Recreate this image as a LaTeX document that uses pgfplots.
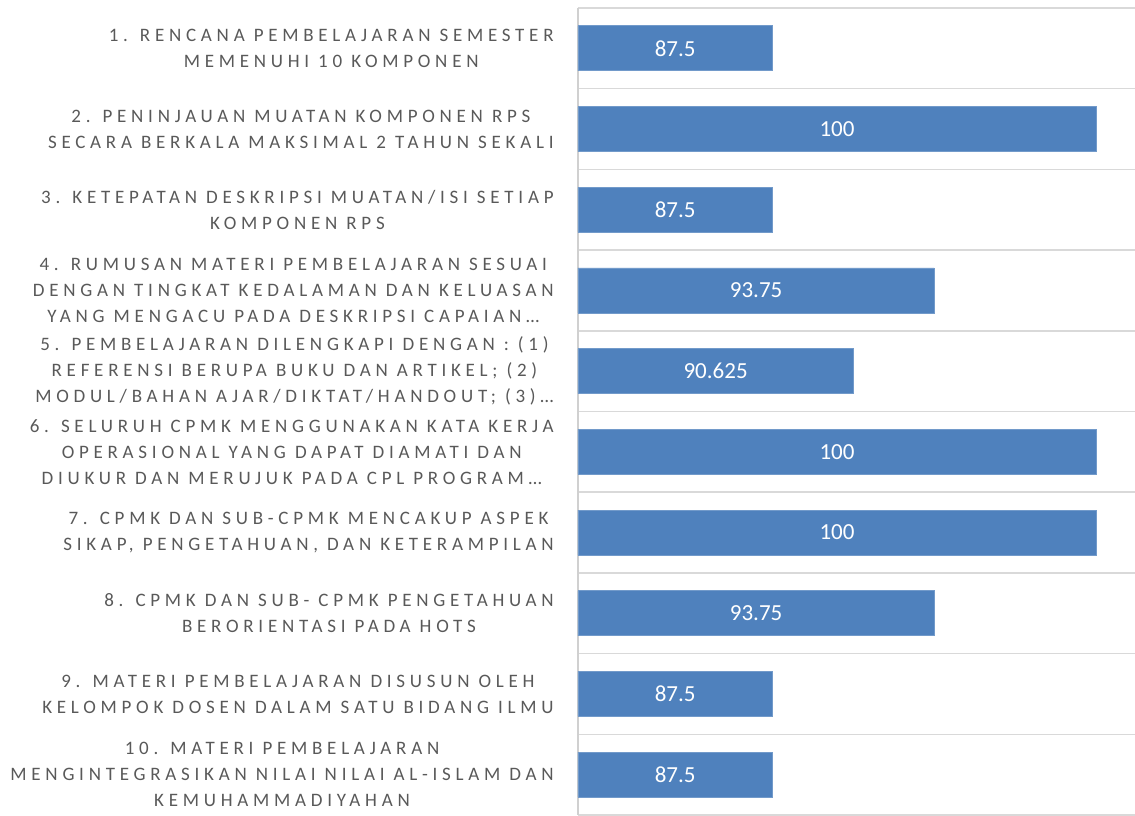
\documentclass[border=0pt]{standalone}
\usepackage{pgfplots}
\pgfplotsset{compat=1.18}
\usepackage{pgfplotstable}
\usepackage{fontspec}
\setmainfont{Carlito}
\newfontfamily\lab[LetterSpace=25]{Carlito}
\definecolor{barc}{HTML}{4F81BD}
\definecolor{grd}{HTML}{D9D9D9}
\definecolor{axc}{HTML}{D0D0D0}
\definecolor{txt}{HTML}{595959}

\pgfplotstableread{
y v
0 87.5
1 100
2 87.5
3 93.75
4 90.625
5 100
6 100
7 93.75
8 87.5
9 87.5
}\data

\begin{document}
\begin{tikzpicture}[x=1pt,y=1pt]
\begin{scope}[overlay]
\begin{axis}[
 scale only axis, width=278.5pt, height=403.5pt,
 xbar, bar width=22.5pt,
 xmin=80, xmax=101.5, ymin=-0.5, ymax=9.5, y dir=reverse,
 xtick=\empty, ytick={0,...,9},
 yticklabels={
  {1. RENCANA PEMBELAJARAN SEMESTER\\MEMENUHI 10 KOMPONEN},
  {2. PENINJAUAN MUATAN KOMPONEN RPS\\SECARA BERKALA MAKSIMAL 2 TAHUN SEKALI},
  {3. KETEPATAN DESKRIPSI MUATAN/ISI SETIAP\\KOMPONEN RPS},
  {4. RUMUSAN MATERI PEMBELAJARAN SESUAI\\DENGAN TINGKAT KEDALAMAN DAN KELUASAN\\YANG MENGACU PADA DESKRIPSI CAPAIAN…},
  {5. PEMBELAJARAN DILENGKAPI DENGAN : (1)\\REFERENSI BERUPA BUKU DAN ARTIKEL; (2)\\MODUL/BAHAN AJAR/DIKTAT/HANDOUT; (3)…},
  {6. SELURUH CPMK MENGGUNAKAN KATA KERJA\\OPERASIONAL YANG DAPAT DIAMATI DAN\\DIUKUR DAN MERUJUK PADA CPL PROGRAM…},
  {7. CPMK DAN SUB-CPMK MENCAKUP ASPEK\\SIKAP, PENGETAHUAN, DAN KETERAMPILAN},
  {8. CPMK DAN SUB- CPMK PENGETAHUAN\\BERORIENTASI PADA HOTS},
  {9. MATERI PEMBELAJARAN DISUSUN OLEH\\KELOMPOK DOSEN DALAM SATU BIDANG ILMU},
  {10. MATERI PEMBELAJARAN\\MENGINTEGRASIKAN NILAI NILAI AL-ISLAM DAN\\KEMUHAMMADIYAHAN}},
 yticklabel style={align=center, font={\lab\fontsize{9.5}{13}\selectfont}, text=txt, anchor=east, inner sep=0pt, xshift=-12pt},
 minor ytick={-0.5,0.5,...,9.5}, yminorgrids, minor grid style={grd, line width=0.75pt},
 axis x line=none, axis y line*=left, axis line style={axc, line width=0.75pt, -},
 major tick length=0pt, minor tick length=0pt, ytick style={draw=none},
 clip=false,
 nodes near coords={\pgfmathprintnumber[fixed,precision=3,assume math mode=true]{\pgfplotspointmeta}},
 visualization depends on={\thisrow{v} \as \val},
 every node near coord/.append style={anchor=center, xshift={-(\val-80)*6.4767}, font=\fontsize{11.5}{13}\selectfont, text=white},
]
\addplot[fill=barc, draw=barc!80!white, line width=0.4pt] table[x=v, y=y, meta=v] {\data};
\coordinate (bl) at (axis cs:80,9.5);
\end{axis}
\end{scope}
\path[use as bounding box] (bl) ++(-289pt,0pt) rectangle ++(567.5pt,407.5pt);
\end{tikzpicture}
\end{document}
